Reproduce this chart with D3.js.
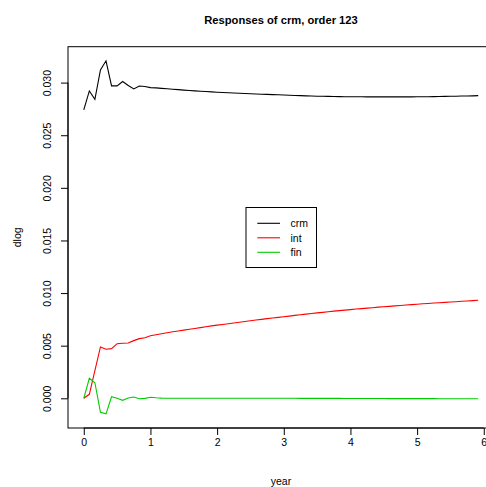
<!DOCTYPE html>
<html><head><meta charset="utf-8">
<script src="https://cdn.jsdelivr.net/npm/d3@7"></script>
<style>body{margin:0;background:#fff;} svg{display:block;} text{font-family:"Liberation Sans",Arial,Helvetica,sans-serif;}</style>
</head><body>
<script>
const months = d3.range(72);
const crm = [0.02741,0.02921,0.02842,0.03121,0.03207,0.02969,0.02969,0.03010,0.02972,0.02940,0.02968,0.02963,
0.02952,0.02950,0.02945,0.02941,0.02937,0.02933,0.02929,0.02925,0.02921,0.02918,0.02915,0.02912,
0.02909,0.02906,0.02903,0.02901,0.02899,0.02897,0.02894,0.02892,0.02890,0.02888,0.02886,0.02884,
0.02882,0.02880,0.02878,0.02876,0.02874,0.02873,0.02871,0.02870,0.02869,0.02868,0.02867,0.02866,
0.02866,0.02865,0.02865,0.02864,0.02864,0.02864,0.02864,0.02864,0.02864,0.02864,0.02864,0.02864,
0.02865,0.02865,0.02866,0.02867,0.02868,0.02869,0.02870,0.02871,0.02872,0.02873,0.02874,0.02876];
const intr = [0,0.00038,0.00263,0.00488,0.00466,0.00472,0.00519,0.00523,0.00526,0.00548,0.00567,0.00576,
0.00595,0.00604,0.00614,0.00623,0.00632,0.00640,0.00648,0.00656,0.00664,0.00672,0.00680,0.00688,
0.00695,0.00702,0.00709,0.00716,0.00723,0.00730,0.00737,0.00744,0.00750,0.00757,0.00763,0.00769,
0.00775,0.00781,0.00788,0.00794,0.00800,0.00806,0.00812,0.00817,0.00822,0.00828,0.00833,0.00838,
0.00843,0.00848,0.00852,0.00857,0.00861,0.00866,0.00870,0.00874,0.00878,0.00882,0.00886,0.00890,
0.00894,0.00898,0.00901,0.00905,0.00908,0.00912,0.00915,0.00918,0.00922,0.00925,0.00928,0.00932];
const fin = [0,0.00190,0.00148,-0.00133,-0.00148,0.00015,0.00000,-0.00019,0.00003,0.00012,-0.00004,-0.00001,
0.00010,0.00005,0.00002,0.00001,0.00001,0.00001,0.00001,0.00001,0.00001,0.00001,0.00001,0.00001,
0.00001,0.00001,0.00000,0.00000,0.00000,0.00000,0.00000,0.00000,0.00000,0.00000,0.00000,0.00000,
0.00000,0.00000,0.00000,-0.00001,-0.00001,-0.00001,-0.00001,-0.00001,-0.00001,-0.00001,-0.00001,-0.00002,
-0.00002,-0.00002,-0.00002,-0.00002,-0.00002,-0.00002,-0.00002,-0.00003,-0.00003,-0.00003,-0.00003,-0.00003,
-0.00003,-0.00003,-0.00003,-0.00003,-0.00004,-0.00004,-0.00004,-0.00004,-0.00004,-0.00004,-0.00004,-0.00004];
const seriesNames = ["crm","int","fin"];
const seriesColors = ["#000000","#ff0000","#00cd00"];
const xTicks = [0,1,2,3,4,5,6];
const yTicks = [0.000,0.005,0.010,0.015,0.020,0.025,0.030];
const title = "Responses of crm, order 123";

const W=486,H=487;
const L=68,R=494,T=46.7,B=428;
const years = months.map(m=>m/12);
const allSeries=[crm,intr,fin];
const xmin=d3.min(years), xmax=d3.max(years);
const ymin=d3.min(allSeries.flat()), ymax=d3.max(allSeries.flat());
const xpad=(xmax-xmin)*0.04, ypad=(ymax-ymin)*0.04;
const x=d3.scaleLinear().domain([xmin-xpad,xmax+xpad]).range([L,R]);
const y=d3.scaleLinear().domain([ymin-ypad,ymax+ypad]).range([B,T]);

const svg=d3.select("body").append("svg").attr("width",W).attr("height",H);
svg.append("rect").attr("width",W).attr("height",H).attr("fill","#fff");

const line=d3.line().x((d,i)=>x(years[i])).y(d=>y(d));
allSeries.forEach((s,k)=>{
  svg.append("path").datum(s).attr("d",line).attr("fill","none")
    .attr("stroke",seriesColors[k]).attr("stroke-width",1.1);
});

// box
svg.append("rect").attr("x",L).attr("y",T).attr("width",R-L).attr("height",B-T)
  .attr("fill","none").attr("stroke","#000").attr("stroke-width",1);

// x axis
const xa=svg.append("g").attr("transform",`translate(0,${B})`)
  .call(d3.axisBottom(x).tickValues(xTicks).tickSize(7).tickPadding(4).tickFormat(d3.format("d")));
xa.select(".domain").attr("d",`M${x(0)},0H${x(6)}`);
xa.selectAll("text").attr("font-size",10.5).attr("fill","#000").attr("font-family","Liberation Sans, Arial");

// y axis
const ya=svg.append("g").attr("transform",`translate(${L},0)`)
  .call(d3.axisLeft(y).tickValues(yTicks).tickSize(7).tickFormat(d3.format(".3f")));
ya.select(".domain").attr("d",`M0,${y(0)}V${y(0.03)}`);
ya.selectAll(".tick text").attr("transform","rotate(-90)").attr("x",0).attr("y",-17)
  .attr("dy","0").attr("text-anchor","middle").attr("font-size",10.5).attr("fill","#000")
  .attr("font-family","Liberation Sans, Arial");

// titles
svg.append("text").attr("x",(L+R)/2).attr("y",24).attr("text-anchor","middle")
  .attr("font-weight","bold").attr("font-size",11.2).text(title);
svg.append("text").attr("x",(L+R)/2).attr("y",485).attr("text-anchor","middle")
  .attr("font-size",10.5).text("year");
svg.append("text").attr("transform",`translate(21,${(T+B)/2}) rotate(-90)`).attr("text-anchor","middle")
  .attr("font-size",10.5).text("dlog");

// legend
const lg=svg.append("g");
lg.append("rect").attr("x",246).attr("y",207.5).attr("width",70.5).attr("height",60)
  .attr("fill","#fff").attr("stroke","#000");
seriesNames.forEach((n,k)=>{
  const yy=223.3+k*14.5;
  lg.append("line").attr("x1",257.3).attr("x2",280).attr("y1",yy).attr("y2",yy)
    .attr("stroke",seriesColors[k]).attr("stroke-width",1.1);
  lg.append("text").attr("x",290.5).attr("y",yy+3.7).attr("font-size",10.5).text(n);
});
</script>
</body></html>
